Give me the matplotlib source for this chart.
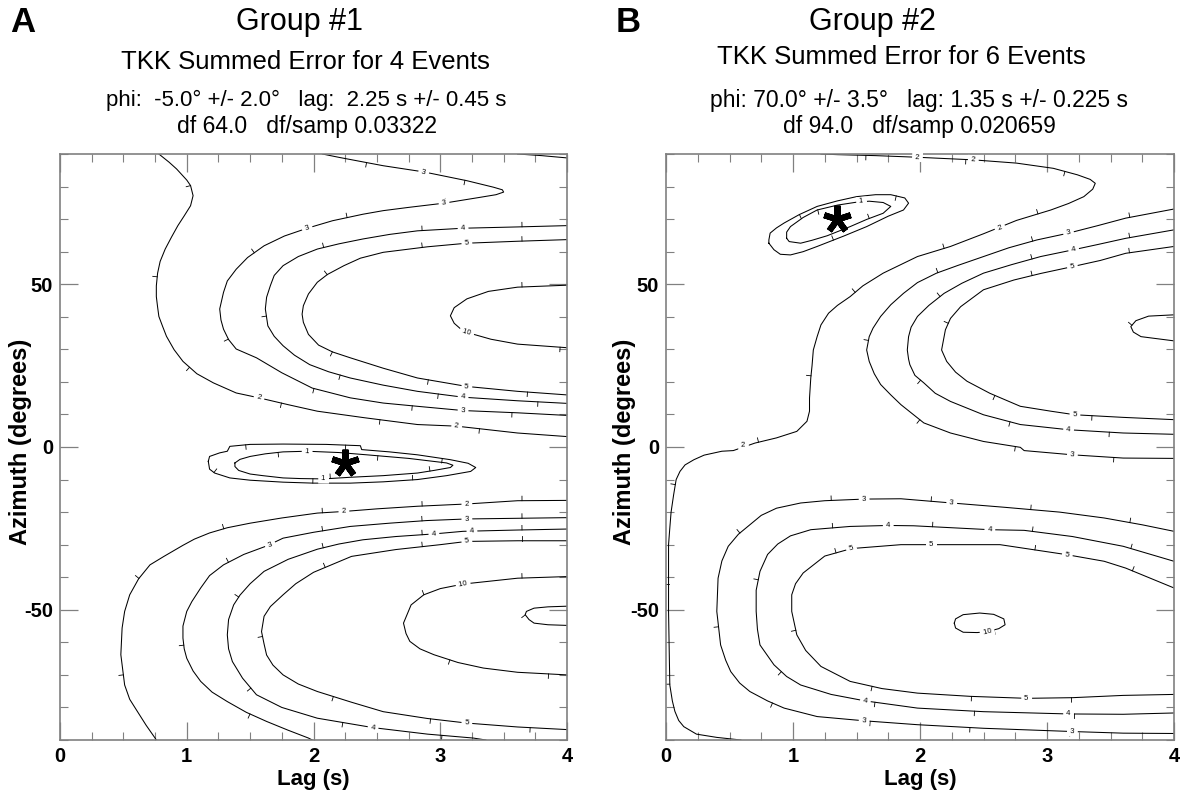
import numpy as np
import matplotlib.pyplot as plt

plt.rcParams['font.family'] = ['Liberation Sans', 'DejaVu Sans']

# ---------------- Group #1 error-surface contours (lag s, azimuth deg) ----------------
# every line is traced with the higher error on its left-hand side
a2_upper = [(0.78, 90), (0.86, 87.5), (0.92, 85.4), (1.0, 82.0), (1.03, 80.3), (1.05, 77.2),
            (1.03, 74.1), (0.98, 71.0), (0.93, 68.0), (0.88, 64.5), (0.83, 60.8), (0.79, 57.0),
            (0.77, 53.4), (0.76, 49.5), (0.76, 46.2), (0.77, 43.0), (0.78, 40.1), (0.81, 37.0),
            (0.84, 34.0), (0.90, 29.9), (0.97, 26.3), (1.08, 22.5), (1.21, 19.7), (1.39, 16.6),
            (1.57, 15.1), (1.80, 13.0), (2.03, 11.0), (2.40, 9.0), (2.82, 6.9), (3.13, 6.4),
            (3.61, 4.3), (4.0, 3.2)]
a3_upper = [(2.07, 90), (2.21, 88.9), (2.55, 86.4), (2.87, 84.5), (3.21, 81.8), (3.42, 79.8),
            (3.49, 79.0), (3.50, 78.3), (3.44, 77.5), (3.30, 76.6), (3.03, 74.9), (2.75, 73.6),
            (2.55, 72.6), (2.39, 71.5), (2.15, 69.5), (1.95, 67.2), (1.77, 64.8), (1.61, 61.8),
            (1.48, 58.2), (1.39, 54.6), (1.32, 51.0), (1.29, 47.5), (1.26, 42.4), (1.27, 39.0),
            (1.29, 36.2), (1.33, 33.0), (1.39, 30.1), (1.55, 27.4), (1.75, 22.8), (1.99, 18.1),
            (2.29, 15.1), (2.55, 13.5), (2.82, 12.5), (3.18, 11.2), (3.61, 10.5), (4.0, 9.7)]
a4_upper = [(4.0, 68.0), (3.61, 67.6), (3.18, 67.2), (2.82, 66.4), (2.60, 65.3), (2.39, 63.9),
            (2.20, 62.4), (2.03, 60.8), (1.88, 58.5), (1.76, 55.7), (1.69, 52.7), (1.66, 49.6),
            (1.63, 46.0), (1.62, 42.4), (1.64, 37.2), (1.69, 34.0), (1.76, 31.1), (1.85, 28.2),
            (1.97, 25.3), (2.12, 23.1), (2.29, 21.2), (2.55, 19.0), (2.82, 17.1), (3.18, 15.3),
            (3.61, 14.2), (4.0, 13.4)]
a5_upper = [(4.0, 63.7), (3.61, 63.2), (3.21, 62.6), (2.90, 61.5), (2.55, 59.8), (2.37, 58.0),
            (2.24, 55.7), (2.11, 53.0), (2.03, 50.6), (1.96, 47.0), (1.92, 43.4), (1.91, 40.8),
            (1.92, 38.3), (1.96, 34.6), (2.04, 31.3), (2.15, 29.2), (2.29, 27.4), (2.55, 24.2),
            (2.82, 21.2), (3.21, 18.6), (3.61, 17.1), (4.0, 16.0)]
a10_upper = [(4.0, 49.7), (3.61, 49.1), (3.38, 47.8), (3.21, 45.5), (3.11, 42.8), (3.08, 40.3),
             (3.11, 38.0), (3.16, 36.3), (3.21, 35.2), (3.40, 33.1), (3.61, 31.6), (4.0, 30.5)]
a4_corner = [(3.61, 90), (3.80, 89.5), (4.0, 88.8)]
a1_outer = [(1.17, -4.4), (1.18, -2.9), (1.26, -1.8), (1.32, -1.3), (1.34, 0.2), (1.50, 0.8),
            (1.76, 0.9), (2.10, 0.8), (2.37, 0.4), (2.38, -0.8), (2.60, -1.5), (2.82, -2.4),
            (3.08, -3.9), (3.22, -5.0), (3.28, -6.3), (3.24, -7.5), (3.05, -8.8), (2.82, -10.0),
            (2.55, -10.7), (2.29, -11.1), (2.00, -11.1), (1.76, -10.8), (1.50, -10.2),
            (1.34, -9.5), (1.22, -8.0), (1.18, -6.8), (1.17, -4.4)]
a1_inner = [(1.38, -4.9), (1.42, -3.8), (1.50, -2.9), (1.62, -2.1), (1.76, -1.5), (1.95, -1.3),
            (2.20, -1.7), (2.42, -2.4), (2.75, -3.5), (3.05, -4.9), (3.10, -5.6), (3.08, -6.3),
            (2.95, -7.2), (2.82, -8.0), (2.55, -8.8), (2.29, -9.3), (2.08, -9.8), (1.90, -9.7),
            (1.76, -9.5), (1.60, -8.8), (1.50, -8.3), (1.41, -7.2), (1.38, -6.0), (1.38, -4.9)]
a2_lower = [(4.0, -16.4), (3.61, -16.5), (3.21, -17.5), (2.82, -18.2), (2.50, -19.0),
            (2.24, -19.8), (2.03, -20.3), (1.75, -21.8), (1.50, -23.4), (1.32, -24.8),
            (1.18, -26.4), (1.06, -28.3), (0.97, -30.2), (0.82, -33.6), (0.71, -36.2),
            (0.62, -40.5), (0.55, -45.4), (0.51, -50.5), (0.49, -55.6), (0.48, -63.8),
            (0.51, -73.1), (0.55, -77.5), (0.61, -81.2), (0.68, -85.5), (0.75, -89.4), (0.76, -90)]
a3_lower = [(4.0, -21.7), (3.61, -21.9), (3.21, -22.1), (2.89, -22.6), (2.60, -23.4),
            (2.29, -24.4), (2.00, -26.2), (1.76, -28.0), (1.63, -30.4), (1.45, -33.0),
            (1.29, -36.2), (1.18, -39.5), (1.11, -43.3), (1.04, -47.5), (1.00, -50.5),
            (0.97, -55.0), (0.97, -58.7), (0.98, -62.0), (1.00, -64.9), (1.05, -68.8),
            (1.11, -72.0), (1.20, -75.3), (1.32, -78.2), (1.47, -81.5), (1.63, -84.3),
            (1.80, -87.0), (1.96, -89.4), (1.99, -90)]
a4_lower = [(4.0, -25.2), (3.61, -25.5), (3.18, -25.9), (2.95, -26.7), (2.65, -27.5),
            (2.39, -28.5), (2.20, -29.8), (2.03, -31.4), (1.80, -34.5), (1.61, -38.2),
            (1.50, -42.0), (1.42, -45.5), (1.37, -48.5), (1.33, -53.0), (1.32, -57.7),
            (1.33, -62.0), (1.36, -65.9), (1.44, -71.0), (1.55, -76.1), (1.75, -80.0),
            (2.03, -83.3), (2.47, -86.2), (2.90, -88.2), (3.26, -89.4), (3.36, -90)]
a5_lower = [(4.0, -28.8), (3.61, -28.8), (3.21, -29.0), (3.00, -30.0), (2.65, -31.5),
            (2.30, -33.6), (2.00, -38.5), (1.86, -42.0), (1.76, -45.4), (1.66, -49.0),
            (1.61, -52.0), (1.59, -56.7), (1.61, -60.5), (1.63, -63.9), (1.68, -67.0),
            (1.76, -70.0), (1.88, -72.8), (2.03, -75.1), (2.30, -78.4), (2.55, -81.3),
            (2.90, -83.4), (3.21, -84.8), (3.61, -86.0), (4.0, -86.8)]
a10_lower = [(4.0, -39.8), (3.61, -40.3), (3.18, -42.1), (3.00, -43.5), (2.87, -45.4),
             (2.77, -48.5), (2.71, -54.1), (2.73, -57.3), (2.76, -59.7), (2.84, -62.0),
             (2.95, -63.8), (3.14, -66.2), (3.34, -67.9), (3.61, -69.2), (4.0, -70.0)]
a20_lower = [(4.0, -48.9), (3.85, -49.1), (3.74, -49.5), (3.68, -50.5), (3.67, -51.5),
             (3.70, -53.0), (3.74, -54.1), (3.85, -54.6), (4.0, -54.8)]

a_labels = [(2.87, 84.5, '3'), (3.03, 74.9, '3'), (1.95, 67.2, '3'), (3.18, 67.2, '4'),
            (3.21, 62.6, '5'), (3.21, 35.2, '10'), (3.21, 18.6, '5'), (3.18, 15.3, '4'),
            (3.18, 11.2, '3'), (3.13, 6.4, '2'), (1.57, 15.1, '2'), (1.95, -1.3, '1'),
            (2.08, -9.8, '1'), (3.21, -17.5, '2'), (2.24, -19.8, '2'), (3.21, -22.1, '3'),
            (1.66, -30.2, '3'), (2.95, -26.7, '4'), (3.25, -25.8, '4'), (3.21, -29.0, '5'),
            (3.18, -42.1, '10'), (3.21, -84.8, '5'), (2.47, -86.2, '4')]
a_best = (2.25, -5.0)

# ---------------- Group #2 error-surface contours ----------------
b2_line = [(1.22, 90.0), (1.35, 89.8), (1.65, 89.5), (1.98, 89.0), (2.42, 88.2), (2.76, 87.2),
           (3.05, 85.6), (3.24, 83.6), (3.34, 82.2), (3.38, 81.0), (3.36, 79.2), (3.29, 76.9),
           (3.17, 74.8), (3.03, 72.8), (2.76, 69.6), (2.50, 65.5), (2.24, 61.6), (1.98, 58.5),
           (1.71, 53.4), (1.55, 49.5), (1.45, 46.2), (1.35, 43.5), (1.28, 41.1), (1.22, 37.5),
           (1.19, 33.9), (1.16, 29.8), (1.15, 25.0), (1.14, 21.2), (1.13, 15.0), (1.13, 11.0),
           (1.11, 7.9), (1.03, 4.8), (0.87, 2.8), (0.70, 1.2), (0.53, -1.1), (0.44, -1.3),
           (0.30, -2.5), (0.22, -3.9), (0.15, -5.5), (0.11, -7.5), (0.08, -10.0), (0.06, -14.7),
           (0.04, -20.0), (0.03, -24.9), (0.02, -30.0), (0.02, -50.5), (0.03, -73.1),
           (0.05, -78.0), (0.07, -81.2), (0.10, -84.0), (0.14, -85.9), (0.24, -88.2),
           (0.40, -89.2), (0.59, -90.0)]
b1_outer = [(0.81, 62.6), (0.81, 63.6), (0.82, 65.7), (0.87, 67.3), (0.93, 68.8), (1.05, 71.4),
            (1.19, 73.9), (1.35, 75.6), (1.50, 76.9), (1.65, 77.5), (1.77, 77.5), (1.88, 76.5),
            (1.91, 74.9), (1.87, 72.8), (1.75, 70.9), (1.58, 67.7), (1.40, 64.8), (1.19, 61.6),
            (1.08, 60.0), (0.98, 59.0), (0.90, 59.2), (0.85, 60.6), (0.81, 62.6)]
b1_inner = [(0.95, 64.1), (0.95, 66.0), (0.98, 67.7), (1.08, 70.5), (1.19, 72.8), (1.35, 74.3),
            (1.50, 75.2), (1.60, 75.5), (1.71, 75.1), (1.77, 73.9), (1.71, 71.8), (1.58, 69.9),
            (1.45, 67.7), (1.27, 64.9), (1.15, 63.5), (1.06, 62.6), (0.97, 63.1), (0.95, 64.1)]
b3_upper = [(4.0, 73.1), (3.62, 70.3), (3.40, 68.0), (3.17, 65.7), (2.92, 63.6), (2.70, 61.2),
            (2.50, 58.5), (2.30, 55.8), (2.13, 53.4), (1.98, 50.5), (1.87, 47.2), (1.77, 43.7),
            (1.69, 40.1), (1.63, 36.5), (1.60, 33.9), (1.58, 29.8), (1.60, 26.3), (1.64, 22.5),
            (1.69, 19.2), (1.77, 16.0), (1.85, 13.0), (2.03, 7.4), (2.24, 4.3), (2.50, 1.7),
            (2.79, -0.1), (2.82, -1.1), (3.20, -2.4), (3.60, -3.4), (4.0, -3.5)]
b4_upper = [(4.0, 66.7), (3.62, 64.1), (3.40, 62.2), (3.21, 60.6), (2.95, 58.5), (2.72, 56.0),
            (2.50, 53.4), (2.33, 50.3), (2.19, 47.2), (2.07, 43.5), (1.98, 40.1), (1.93, 36.8),
            (1.91, 33.9), (1.90, 29.8), (1.91, 27.0), (1.92, 25.3), (1.96, 22.0), (2.03, 19.7),
            (2.12, 16.5), (2.24, 14.0), (2.50, 9.9), (2.79, 6.9), (3.17, 5.3), (3.60, 4.3),
            (4.0, 3.9)]
b5_upper = [(4.0, 61.6), (3.62, 59.5), (3.42, 57.3), (3.20, 55.4), (2.95, 53.3), (2.74, 51.3),
            (2.50, 48.3), (2.32, 43.1), (2.24, 39.5), (2.20, 36.0), (2.17, 29.8), (2.21, 26.3),
            (2.28, 23.0), (2.37, 20.2), (2.55, 16.5), (2.79, 12.5), (3.03, 11.0), (3.22, 9.9),
            (3.60, 9.1), (4.0, 8.4)]
b10_upper = [(4.0, 40.6), (3.80, 40.2), (3.70, 38.8), (3.66, 37.0), (3.68, 35.3), (3.74, 33.9),
             (4.0, 32.6)]
b3_lower = [(4.0, -25.9), (3.75, -23.9), (3.45, -21.8), (3.10, -20.0), (2.66, -18.5),
            (2.25, -17.2), (1.85, -15.9), (1.56, -16.0), (1.25, -16.5), (1.06, -17.2),
            (0.87, -18.8), (0.75, -21.0), (0.66, -23.9), (0.57, -26.8), (0.49, -30.5),
            (0.44, -35.0), (0.41, -40.3), (0.40, -50.5), (0.43, -60.8), (0.47, -65.5),
            (0.51, -69.0), (0.58, -72.5), (0.66, -75.1), (0.80, -78.0), (0.93, -80.2),
            (1.19, -82.8), (1.56, -84.1), (1.98, -85.3), (2.50, -86.4), (3.20, -87.4),
            (3.60, -87.9), (4.0, -88.0)]
b4_lower = [(4.0, -35.1), (3.80, -32.8), (3.60, -30.5), (3.20, -27.5), (2.82, -25.6),
            (2.55, -25.4), (1.95, -24.2), (1.75, -24.1), (1.45, -24.4), (1.14, -25.4),
            (0.98, -27.3), (0.88, -29.8), (0.80, -33.0), (0.74, -38.2), (0.71, -44.0),
            (0.71, -50.5), (0.72, -56.0), (0.74, -60.8), (0.85, -66.9), (0.95, -70.5),
            (1.06, -73.1), (1.30, -76.0), (1.57, -78.0), (1.98, -80.2), (2.50, -81.3),
            (3.17, -82.0), (3.60, -82.1), (4.0, -81.7)]
b5_lower = [(4.0, -43.3), (3.62, -37.2), (3.45, -35.1), (3.16, -33.1), (2.63, -30.0),
            (2.09, -30.0), (1.85, -30.0), (1.46, -31.2), (1.25, -33.5), (1.08, -38.7),
            (1.02, -42.0), (0.99, -45.4), (0.99, -50.5), (1.03, -57.7), (1.10, -62.5),
            (1.22, -67.4), (1.45, -72.0), (1.70, -74.2), (1.98, -75.6), (2.40, -76.6),
            (2.84, -77.2), (3.20, -77.0), (3.60, -76.3), (4.0, -76.0)]
b10_lower = [(2.27, -54.1), (2.28, -55.6), (2.34, -56.9), (2.45, -57.0), (2.53, -56.7),
             (2.62, -55.8), (2.67, -54.6), (2.66, -52.8), (2.58, -51.4), (2.47, -51.0),
             (2.34, -51.5), (2.28, -52.8), (2.27, -54.1)]

b_labels = [(1.54, 75.4, '1'), (1.98, 89.0, '2'), (2.42, 88.2, '2'), (2.63, 67.3, '2'),
            (0.61, 0.4, '2'), (3.17, 65.7, '3'), (3.21, 60.6, '4'), (3.20, 55.4, '5'),
            (3.22, 9.9, '5'), (3.17, 5.3, '4'), (3.20, -2.4, '3'), (1.56, -16.0, '3'),
            (2.25, -17.2, '3'), (1.75, -24.1, '4'), (2.55, -25.4, '4'), (1.46, -31.2, '5'),
            (2.09, -30.0, '5'), (3.16, -33.1, '5'), (2.53, -56.8, '10'), (2.84, -77.2, '5'),
            (1.57, -78.0, '4'), (3.17, -82.0, '4'), (1.56, -84.1, '3'), (3.20, -87.4, '3')]
b_best = (1.35, 70.0)

a_lines = [a2_upper, a3_upper, a4_upper, a5_upper, a10_upper, a4_corner, a1_outer, a1_inner,
           a2_lower, a3_lower, a4_lower, a5_lower, a10_lower, a20_lower]
b_lines = [b2_line, b1_outer, b1_inner, b3_upper, b4_upper, b5_upper, b10_upper,
           b3_lower, b4_lower, b5_lower, b10_lower]

W, H = 1180, 799
fig = plt.figure(figsize=(W / 100, H / 100), dpi=100)


def rect(x0, x1, y0, y1):
    return [x0 / W, 1 - y1 / H, (x1 - x0) / W, (y1 - y0) / H]


def ftext(x, y, s, **kw):
    fig.text(x / W, 1 - y / H, s, ha='center', va='center', **kw)


def hachures(ax, pts, spacing=100.0, start=45.0, length=4.5):
    # short downhill ticks (higher error on the left, so ticks go right)
    d = ax.transData.transform(np.asarray(pts, float))
    seg = np.diff(d, axis=0)
    sl = np.hypot(seg[:, 0], seg[:, 1])
    cum = np.concatenate([[0], np.cumsum(sl)])
    inv = ax.transData.inverted()
    for s in np.arange(start, cum[-1] - 5, spacing):
        i = min(np.searchsorted(cum, s) - 1, len(sl) - 1)
        if sl[i] == 0:
            continue
        u = seg[i] / sl[i]
        p = d[i] + u * (s - cum[i])
        q = p + np.array([u[1], -u[0]]) * length
        xy = inv.transform([p, q])
        ax.plot(xy[:, 0], xy[:, 1], color='k', lw=0.6, zorder=2)


def labels(ax, lines, labs):
    for x, y, t in labs:
        p = ax.transData.transform((x, y))
        best, ang = 1e9, 0.0
        for pts in lines:
            d = ax.transData.transform(np.asarray(pts, float))
            k = np.argmin(np.hypot(*(d - p).T))
            dist = np.hypot(*(d[k] - p))
            if dist < best:
                j = min(k, len(d) - 2)
                v = d[j + 1] - d[j]
                best, ang = dist, np.degrees(np.arctan2(v[1], v[0]))
        if ang > 90:
            ang -= 180
        if ang < -90:
            ang += 180
        ax.text(x, y, ' ' + t + ' ', fontsize=5.5, rotation=ang, rotation_mode='anchor',
                ha='center', va='center', zorder=3,
                bbox=dict(boxstyle='square,pad=0.15', fc='white', ec='none'))


def panel(ax, lines, labs, best):
    ax.set_xlim(0, 4)
    ax.set_ylim(-90, 90)
    for pts in lines:
        xy = np.asarray(pts, float)
        ax.plot(xy[:, 0], xy[:, 1], color='k', lw=0.75, zorder=2)
        hachures(ax, pts)
    labels(ax, lines, labs)
    ax.plot(*best, marker=(5, 2, 0), ms=20, mew=4.4, color='k', zorder=5)
    ax.set_xticks([0, 1, 2, 3, 4], labels=['0', '1', '2', '3', '4'], fontweight='bold')
    ax.set_yticks([-50, 0, 50], labels=['-50', '0', '50'], fontweight='bold')
    ax.set_xticks(np.arange(0, 4.01, 0.25), minor=True)
    ax.set_yticks(np.arange(-90, 91, 10), minor=True)
    ax.tick_params(which='both', direction='in', top=True, right=True, color='#808080',
                   labelsize=14.5)
    ax.tick_params(which='major', length=13, width=0.9, pad=5)
    ax.tick_params(which='minor', length=6, width=0.8)
    for sp in ax.spines.values():
        sp.set_color('#808080')
        sp.set_linewidth(1.2)


axA = fig.add_axes(rect(60, 567, 154, 740))
axB = fig.add_axes(rect(666, 1174, 154, 740))
panel(axA, a_lines, a_labels, a_best)
panel(axB, b_lines, b_labels, b_best)

for cx, lab in [(313, 'Lag (s)'), (920, 'Lag (s)')]:
    ftext(cx, 780, lab, fontsize=16, fontweight='bold')
for cx in (21, 625):
    ftext(cx, 442, 'Azimuth (degrees)', fontsize=17, fontweight='bold', rotation=90)

ftext(23, 22, 'A', fontsize=25, fontweight='bold')
ftext(628, 22, 'B', fontsize=25, fontweight='bold')
ftext(300, 22, 'Group #1', fontsize=22)
ftext(872, 22, 'Group #2', fontsize=22)
ftext(305, 62, 'TKK Summed Error for 4 Events', fontsize=18.5)
ftext(901, 57, 'TKK Summed Error for 6 Events', fontsize=18.5)
ftext(306, 100, 'phi:  -5.0\u00b0 +/- 2.0\u00b0   lag:  2.25 s +/- 0.45 s', fontsize=16)
ftext(919, 100, 'phi: 70.0\u00b0 +/- 3.5\u00b0   lag: 1.35 s +/- 0.225 s', fontsize=16.5)
ftext(307, 127, 'df 64.0   df/samp 0.03322', fontsize=16.5)
ftext(919, 127, 'df 94.0   df/samp 0.020659', fontsize=16.5)

fig.savefig('out.png', dpi=100)
